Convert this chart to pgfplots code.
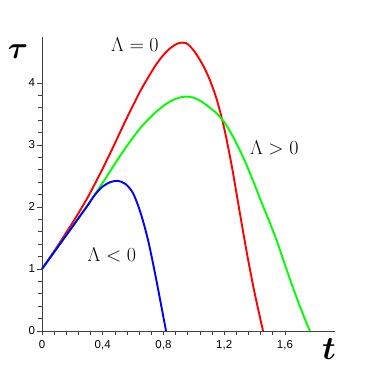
\RequirePackage{fix-cm}
\documentclass[border=0pt]{standalone}
\usepackage{amsmath}
\usepackage{pgfplots}
\pgfplotsset{compat=1.18}
\usepackage{fontspec}
\newfontfamily\ticksf{Liberation Sans}

\begin{document}
\begin{tikzpicture}
\useasboundingbox (0,0) rectangle (374pt,374pt);
\begin{axis}[
    at={(42pt,43pt)}, anchor=south west,
    scale only axis, width=293pt, height=294pt,
    xmin=0, xmax=1.93, ymin=0, ymax=4.74,
    axis lines*=left,
    axis line style={black!75, line width=0.8pt},
    tick align=outside,
    major tick length=4.5pt, minor tick length=4pt,
    tick style={black!75, line width=0.7pt},
    xtick={0,0.4,0.8,1.2,1.6}, ytick={0,1,2,3,4},
    minor x tick num=4, minor y tick num=4,
    ticklabel style={font={\ticksf\fontsize{11.5}{13}\selectfont}},
    /pgf/number format/assume math mode=true,
    /pgf/number format/use comma,
    xticklabel style={yshift=-1pt},
    yticklabel style={xshift=1pt},
    clip=false,
]
% Lambda = 0
\addplot[red, line width=1.9pt, smooth] coordinates {
(0.00,1.00) (0.05,1.18) (0.10,1.36) (0.15,1.55) (0.20,1.74) (0.25,1.94)
(0.30,2.15) (0.35,2.38) (0.40,2.62) (0.45,2.87) (0.50,3.13) (0.55,3.39)
(0.60,3.64) (0.65,3.88) (0.70,4.09) (0.75,4.29) (0.80,4.45) (0.85,4.57)
(0.90,4.64) (0.95,4.64) (1.00,4.52) (1.05,4.33) (1.10,4.08) (1.15,3.74)
(1.20,3.27) (1.25,2.66) (1.30,1.95) (1.35,1.25) (1.40,0.62) (1.456,0)
};
% Lambda > 0
\addplot[green, line width=1.9pt, smooth] coordinates {
(0.00,1.00) (0.05,1.17) (0.10,1.34) (0.15,1.51) (0.20,1.68) (0.25,1.86)
(0.30,2.03) (0.35,2.21) (0.40,2.39) (0.45,2.58) (0.50,2.77) (0.55,2.95)
(0.60,3.12) (0.65,3.28) (0.70,3.41) (0.75,3.53) (0.80,3.63) (0.85,3.71)
(0.90,3.76) (0.95,3.78) (1.00,3.76) (1.05,3.70) (1.10,3.61) (1.15,3.51)
(1.20,3.37) (1.25,3.17) (1.30,2.93) (1.35,2.66) (1.40,2.36) (1.45,2.05)
(1.50,1.75) (1.55,1.43) (1.60,1.07) (1.65,0.72) (1.70,0.39) (1.74,0.14)
(1.765,0)
};
% Lambda < 0
\addplot[blue, line width=1.9pt, smooth] coordinates {
(0.00,1.00) (0.05,1.17) (0.10,1.34) (0.15,1.51) (0.20,1.68) (0.25,1.85)
(0.30,2.02) (0.35,2.20) (0.40,2.33) (0.45,2.40) (0.50,2.42) (0.55,2.37)
(0.60,2.22) (0.65,1.90) (0.70,1.45) (0.75,0.86) (0.80,0.22) (0.817,0)
};
\node[font={\fontsize{20}{20}\selectfont}] at (axis cs:0.612,4.61) {$\Lambda=0$};
\node[font={\fontsize{20}{20}\selectfont}] at (axis cs:1.53,2.95) {$\Lambda>0$};
\node[font={\fontsize{20}{20}\selectfont}] at (axis cs:0.46,1.23) {$\Lambda<0$};
\end{axis}
\node[font={\fontsize{31}{31}\selectfont}] at (18pt,322pt) {$\boldsymbol{\tau}$};
\node[font={\fontsize{33}{33}\selectfont}] at (329pt,25pt) {$\boldsymbol{t}$};
\end{tikzpicture}
\end{document}
